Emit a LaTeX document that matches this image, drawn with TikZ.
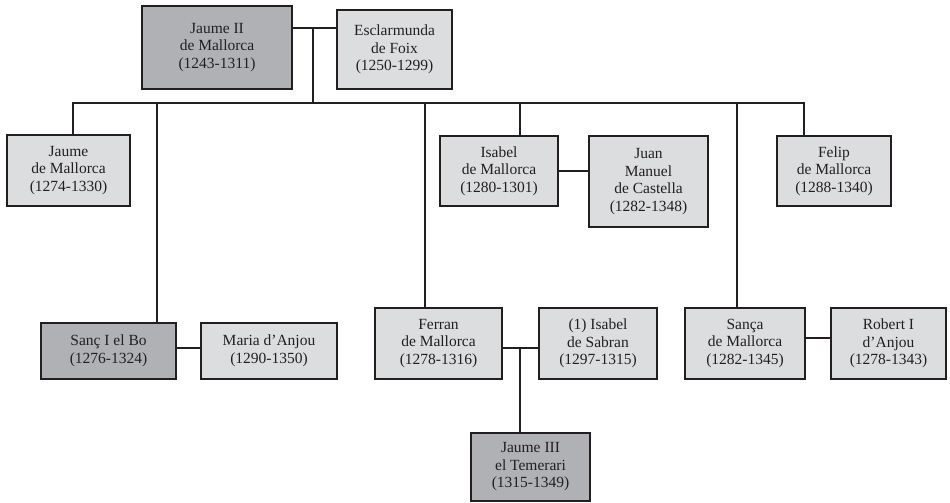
\documentclass[tikz,border=0pt]{standalone}
\usepackage{fontspec}
\setmainfont{Liberation Serif}
\usepackage{tikz}
\usetikzlibrary{calc}

\definecolor{boxgray}{RGB}{220,221,223}
\definecolor{heirgray}{RGB}{176,177,180}
\definecolor{ink}{RGB}{35,31,32}

\begin{document}
\begin{tikzpicture}[
  x=1pt, y=-1pt,
  box/.style={draw=ink, line width=1.6pt, fill=boxgray, text=ink, align=center,
    inner sep=0pt, font=\fontsize{15.5}{17.5}\selectfont},
  heir/.style={box, fill=heirgray},
  size/.style 2 args={minimum width=#1pt, minimum height=#2pt},
  line/.style={draw=ink, line width=1.6pt}
]
\useasboundingbox (0,0) rectangle (950,503);

% parents
\node[heir, size={150}{83}] (jaume2) at (217,47.5) {Jaume II\\de Mallorca\\(1243-1311)};
\node[box, size={115}{79}] (esclar) at (394.5,49.5) {Esclarmunda\\de Foix\\(1250-1299)};

% children
\node[box, size={123}{71}] (jaumeM) at (68.5,170.5) {Jaume\\de Mallorca\\(1274-1330)};
\node[box, size={118}{70}] (isabelM) at (499,171) {Isabel\\de Mallorca\\(1280-1301)};
\node[box, size={119}{91}] (juanM) at (648.5,181.5) {Juan\\Manuel\\de Castella\\(1282-1348)};
\node[box, size={114}{70}] (felip) at (834,171) {Felip\\de Mallorca\\(1288-1340)};
\node[heir, size={135}{56}] (sanc) at (108.5,351) {Sanç I el Bo\\(1276-1324)};
\node[box, size={136}{56}] (maria) at (269,351) {Maria d’Anjou\\(1290-1350)};
\node[box, size={127}{71}] (ferran) at (438.5,343.5) {Ferran\\de Mallorca\\(1278-1316)};
\node[box, size={118}{71}] (isabelS) at (598,343.5) {(1) Isabel\\de Sabran\\(1297-1315)};
\node[box, size={120}{71}] (sanca) at (745,343.5) {Sança\\de Mallorca\\(1282-1345)};
\node[box, size={115}{71}] (robert) at (888.5,343.5) {Robert I\\d’Anjou\\(1278-1343)};

% grandson
\node[heir, size={119}{68}] (jaume3) at (530.5,467) {Jaume III\\el Temerari\\(1315-1349)};

% marriage points and bus
\coordinate (wed) at (313,28);
\coordinate (bus) at (313,103);
\coordinate (c1) at (73,103);
\coordinate (c2) at (157,103);
\coordinate (c3) at (425,103);
\coordinate (c4) at (520,103);
\coordinate (c5) at (737,103);
\coordinate (c6) at (804,103);
\coordinate (w2) at (190,348);
\coordinate (w4) at (520,348);
\coordinate (w5) at (818,338);

\draw[line] (jaume2.east |- wed) -- (esclar.west |- wed);
\draw[line] (wed) -- (bus);
\draw[line] (jaumeM.north -| c1) -- (c1) -- (c6) -- (felip.north -| c6);
\foreach \c/\n in {c2/sanc, c3/ferran, c4/isabelM, c5/sanca}
  \draw[line] (\c) -- (\n.north -| \c);

\draw[line] (isabelM.east) -- (juanM.west |- isabelM.east);
\draw[line] (sanc.east |- w2) -- (maria.west |- w2);
\draw[line] (ferran.east |- w4) -- (isabelS.west |- w4);
\draw[line] (w4) -- (jaume3.north -| w4);
\draw[line] (sanca.east |- w5) -- (robert.west |- w5);
\end{tikzpicture}
\end{document}
